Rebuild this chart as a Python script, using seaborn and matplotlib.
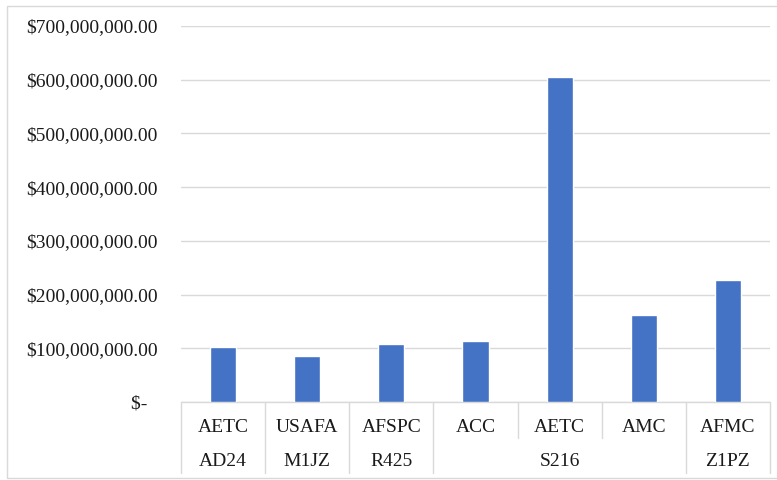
import pandas as pd
import matplotlib.pyplot as plt
import seaborn as sns
from matplotlib.patches import Rectangle

# values
commands = ["AETC", "USAFA", "AFSPC", "ACC", "AETC", "AMC", "AFMC"]
codes = ["AD24", "M1JZ", "R425", "S216", "S216", "S216", "Z1PZ"]
amounts = [102e6, 86e6, 108e6, 114e6, 605e6, 162e6, 228e6]
y_ticks = [0, 100e6, 200e6, 300e6, 400e6, 500e6, 600e6, 700e6]

bar_color = "#4472C4"
line_color = "#D9D9D9"

df = pd.DataFrame({"command": commands, "code": codes, "amount": amounts})
df["key"] = [f"{c}|{k}|{i}" for i, (c, k) in enumerate(zip(commands, codes))]

sns.set_style("white")
plt.rcParams["font.family"] = ["Liberation Serif", "DejaVu Serif"]

fig = plt.figure(figsize=(7.77, 4.80), dpi=100)
ax = fig.add_axes([181 / 777, 1 - 402 / 480, (770 - 181) / 777, (402 - 26) / 480])

sns.barplot(data=df, x="key", y="amount", color=bar_color, saturation=1,
            width=0.31, ax=ax, zorder=3)

ax.set_xlim(-0.5, len(df) - 0.5)
ax.set_ylim(0, 700e6)
ax.set_yticks(y_ticks)


def money(v):
    if v == 0:
        return "$-  "
    return f"${v:,.2f}"


ax.set_yticklabels([money(v) for v in y_ticks], fontsize=14, color="#1a1a1a")
ax.tick_params(axis="y", length=0, pad=17)
ax.yaxis.grid(True, color=line_color, linewidth=1)
ax.set_axisbelow(True)
for s in ax.spines.values():
    s.set_visible(False)
ax.set_xticks([])
ax.set_xlabel("")
ax.set_ylabel("")

# multi-level category axis, drawn like Excel's label table
tr = ax.get_xaxis_transform()
row1_y = -25 / 376
row2_y = -59 / 376
inner_bottom = -36 / 376
outer_bottom = -71 / 376

ax.plot([-0.5, len(df) - 0.5], [0, 0], transform=tr, color=line_color,
        lw=1, clip_on=False)

for i, c in enumerate(commands):
    ax.text(i, row1_y, c, transform=tr, ha="center", va="center",
            fontsize=14, color="#1a1a1a")

# group the lower row by consecutive codes
groups = []
start = 0
for i in range(1, len(codes) + 1):
    if i == len(codes) or codes[i] != codes[start]:
        groups.append((start, i - 1, codes[start]))
        start = i

for g0, g1, name in groups:
    ax.text((g0 + g1) / 2, row2_y, name, transform=tr, ha="center",
            va="center", fontsize=14, color="#1a1a1a")
    ax.plot([g0 - 0.5, g0 - 0.5], [0, outer_bottom], transform=tr,
            color=line_color, lw=1, clip_on=False)
    for j in range(g0 + 1, g1 + 1):
        ax.plot([j - 0.5, j - 0.5], [0, inner_bottom], transform=tr,
                color=line_color, lw=1, clip_on=False)
ax.plot([len(df) - 0.5, len(df) - 0.5], [0, outer_bottom], transform=tr,
        color=line_color, lw=1, clip_on=False)

# chart frame
fig.patches.append(Rectangle((7 / 777, 1 - 478 / 480), 780 / 777, 472 / 480,
                             transform=fig.transFigure, fill=False,
                             edgecolor=line_color, lw=1))

fig.savefig("out.png", dpi=100)
